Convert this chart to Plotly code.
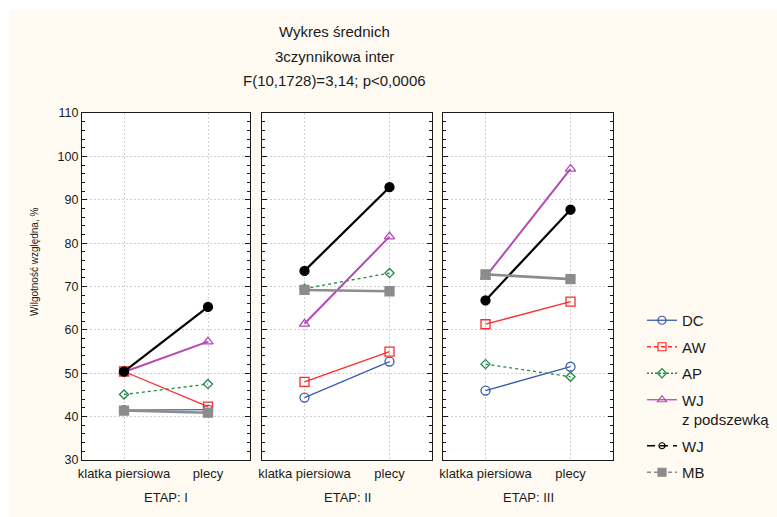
import plotly.graph_objects as go

categories = ["klatka piersiowa", "plecy"]
stages = ["ETAP: I", "ETAP: II", "ETAP: III"]
series_names = ["DC", "AW", "AP", "WJ<br>z podszewką", "WJ", "MB"]

# values per series: [stage I (klatka, plecy), stage II, stage III]
DC = [[41.5, 41.6], [44.4, 52.7], [46.0, 51.5]]
AW = [[50.4, 42.3], [48.0, 55.0], [61.3, 66.5]]
AP = [[45.1, 47.5], [69.5, 73.1], [52.1, 49.2]]
WJ_podszewka = [[50.3, 57.3], [61.4, 81.5], [72.2, 97.1]]
WJ = [[50.4, 65.3], [73.6, 92.9], [66.8, 87.7]]
MB = [[41.4, 40.9], [69.2, 68.9], [72.8, 71.7]]

title_lines = ["Wykres średnich", "3czynnikowa inter", "F(10,1728)=3,14; p<0,0006"]
y_title = "Wilgotność względna, %"

W, H = 777, 517
ML, MR, MT, MB_ = 82, 164, 113, 57
PW = W - ML - MR
PH = H - MT - MB_

def px(x):
    return (x - ML) / PW

def py(y):
    return (H - MB_ - y) / PH

FONT = "Liberation Sans, Arial, sans-serif"
TXT = "#1a1a1a"

styles = [
    dict(color="#3a5dae", width=1.3, dash="solid", sym="circle-open", msize=9, lw=1.3, ldash="solid", lsym="circle-open", lmsize=8),
    dict(color="#ff2a2a", width=1.3, dash="solid", sym="square-open", msize=9, lw=1.3, ldash="4px,3px", lsym="square-open", lmsize=8),
    dict(color="#1f8a45", width=1.3, dash="dot", sym="diamond-open", msize=7, lw=1.3, ldash="2px,2px", lsym="diamond-open", lmsize=7),
    dict(color="#b44ab4", width=2.0, dash="solid", sym="triangle-up-open", msize=9, lw=1.3, ldash="solid", lsym="triangle-up-open", lmsize=8),
    dict(color="#000000", width=2.2, dash="solid", sym="circle", msize=9, lw=1.3, ldash="8px,5px", lsym="circle-open", lmsize=6),
    dict(color="#8c8c8c", width=2.6, dash="solid", sym="square", msize=9, lw=1.3, ldash="4px,3px", lsym="square", lmsize=8),
]

all_series = [DC, AW, AP, WJ_podszewka, WJ, MB]

fig = go.Figure()

domains = [[px(82), px(250)], [px(262), px(432)], [px(443), px(613)]]

for si, (name, data, st) in enumerate(zip(series_names, all_series, styles)):
    for k in range(3):
        xa = "x" if k == 0 else f"x{k+1}"
        ya = "y" if k == 0 else f"y{k+1}"
        fig.add_trace(go.Scatter(
            x=categories, y=data[k], xaxis=xa, yaxis=ya,
            mode="lines+markers", showlegend=False,
            line=dict(color=st["color"], width=st["width"], dash=st["dash"]),
            marker=dict(symbol=st["sym"], size=st["msize"], color=st["color"],
                        line=dict(color=st["color"], width=1.3)),
            cliponaxis=False,
        ))

for si, (name, st) in enumerate(zip(series_names, styles)):
    fig.add_trace(go.Scatter(
        x=[None], y=[None], name=name, mode="lines+markers",
        legendgroup=f"g{si}",
        line=dict(color=st["color"], width=st["lw"], dash=st["ldash"]),
        marker=dict(symbol=st["lsym"], size=st["lmsize"], color=st["color"],
                    line=dict(color=st["color"], width=1.2)),
    ))

xaxis_common = dict(
    type="category", categoryorder="array", categoryarray=categories,
    range=[-0.5, 1.5], showgrid=True, gridcolor="#cfcfcf", griddash="2px,2px", gridwidth=1,
    showline=True, linecolor="#1a1a1a", linewidth=1.3, mirror=True,
    ticks="", ticklabelstandoff=1,
    tickfont=dict(family=FONT, size=13, color=TXT), zeroline=False,
)
yaxis_common = dict(
    range=[30, 110], dtick=10, tick0=30, showgrid=True, gridcolor="#cfcfcf", griddash="2px,2px", gridwidth=1,
    showline=True, linecolor="#1a1a1a", linewidth=1.3, mirror="allticks",
    ticks="inside", ticklen=5, tickcolor="#1a1a1a", tickwidth=1,
    minor=dict(ticks="inside", dtick=2, ticklen=3, tickcolor="#1a1a1a", showgrid=False),
    tickfont=dict(family=FONT, size=12.5, color=TXT), zeroline=False,
    domain=[0, 1],
)

layout = dict(
    width=W, height=H,
    margin=dict(l=ML, r=MR, t=MT, b=MB_, autoexpand=False),
    paper_bgcolor="#fffbf2", plot_bgcolor="#ffffff",
    showlegend=True,
    legend=dict(x=px(642), y=py(304), xanchor="left", yanchor="top",
                font=dict(family=FONT, size=15, color=TXT),
                bgcolor="rgba(0,0,0,0)", traceorder="grouped", tracegroupgap=4,
                valign="top", itemwidth=30),
)
for k in range(3):
    xn = "xaxis" if k == 0 else f"xaxis{k+1}"
    yn = "yaxis" if k == 0 else f"yaxis{k+1}"
    xa = dict(xaxis_common, domain=domains[k], anchor="y" if k == 0 else f"y{k+1}")
    ya = dict(yaxis_common, anchor="x" if k == 0 else f"x{k+1}")
    if k > 0:
        ya["showticklabels"] = False
        ya["matches"] = "y"
    layout[xn] = xa
    layout[yn] = ya

fig.update_layout(**layout)

annotations = []
for line, yy in zip(title_lines, [31, 56, 81]):
    annotations.append(dict(text=line, x=px(334), y=py(yy), xref="paper", yref="paper",
                            xanchor="center", yanchor="middle", showarrow=False,
                            font=dict(family=FONT, size=15, color=TXT)))
centers = [166, 347, 528]
for lab, cx in zip(stages, centers):
    annotations.append(dict(text=lab, x=px(cx), y=py(497), xref="paper", yref="paper",
                            xanchor="center", yanchor="middle", showarrow=False,
                            font=dict(family=FONT, size=13, color=TXT)))
annotations.append(dict(text=y_title, x=px(34), y=py(262), xref="paper", yref="paper",
                        xanchor="center", yanchor="middle", showarrow=False, textangle=-90,
                        font=dict(family=FONT, size=10, color=TXT)))
fig.update_layout(annotations=annotations)

fig.add_shape(type="rect", xref="paper", yref="paper", x0=px(0), x1=px(W), y0=py(10), y1=py(0),
              fillcolor="#ffffff", line=dict(width=0), layer="below")
fig.add_shape(type="rect", xref="paper", yref="paper", x0=px(0), x1=px(9), y0=py(H), y1=py(0),
              fillcolor="#ffffff", line=dict(width=0), layer="below")

fig.write_html("out.html")
